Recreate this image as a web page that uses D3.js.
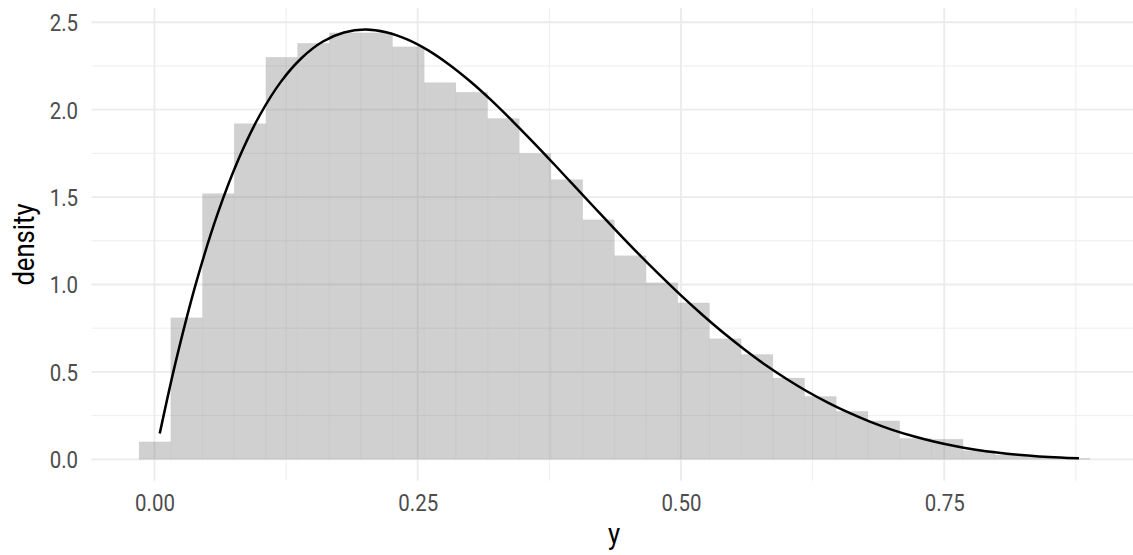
<!DOCTYPE html>
<html><head><meta charset="utf-8">
<script src="https://cdn.jsdelivr.net/npm/d3@7"></script>
<style>body{margin:0;background:#fff} svg{display:block}</style>
</head><body>
<svg id="c" width="1133" height="555"></svg>
<script>
// ---- data ----
const binCenters = [0.0004,0.0305,0.0606,0.0907,0.1208,0.1509,0.1810,0.2111,0.2412,0.2713,
  0.3014,0.3315,0.3616,0.3917,0.4218,0.4519,0.4820,0.5121,0.5422,0.5723,
  0.6024,0.6325,0.6626,0.6927,0.7228,0.7529,0.7830,0.8131,0.8432,0.8733];
const binWidth = 0.0301;
const binDensity = [0.10,0.81,1.52,1.92,2.30,2.38,2.44,2.44,2.36,2.155,
  2.10,1.95,1.75,1.60,1.37,1.165,1.01,0.895,0.69,0.60,
  0.465,0.36,0.275,0.22,0.12,0.115,0.05,0.025,0.012,0.006];
const curveX = [0.005,0.02,0.04,0.06,0.08,0.10,0.12,0.14,0.16,0.18,0.20,0.22,0.24,0.26,0.28,0.30,
  0.32,0.34,0.36,0.38,0.40,0.42,0.44,0.46,0.48,0.50,0.52,0.54,0.56,0.58,0.60,0.62,0.64,0.66,
  0.68,0.70,0.72,0.74,0.76,0.78,0.80,0.82,0.84,0.86,0.878];
const curveY = [0.147,0.553,1.019,1.405,1.719,1.968,2.159,2.297,2.390,2.441,2.458,2.443,2.402,2.339,2.257,2.161,
  2.053,1.935,1.812,1.685,1.555,1.426,1.298,1.173,1.053,0.9375,0.828,0.725,0.630,0.541,0.461,0.388,0.323,0.265,
  0.214,0.170,0.133,0.1015,0.0757,0.0548,0.0384,0.0258,0.0165,0.0099,0.0058];
const xTicks = [0, 0.25, 0.5, 0.75];
const xTickLabels = ["0.00","0.25","0.50","0.75"];
const xMinor = [0.125, 0.375, 0.625, 0.875];
const yTicks = [0, 0.5, 1, 1.5, 2, 2.5];
const yTickLabels = ["0.0","0.5","1.0","1.5","2.0","2.5"];
const yMinor = [0.25, 0.75, 1.25, 1.75, 2.25];
const xTitle = "y", yTitle = "density";

// ---- layout ----
const svg = d3.select("#c");
const L = 91.5, R = 1137, T = 8.1, B = 480.8;
const x = d3.scaleLinear().domain([-0.0598, 0.9331]).range([L, R]);
const y = d3.scaleLinear().domain([-0.123, 2.581]).range([B, T]);
const FONT = "Roboto, 'Noto Sans', sans-serif";
const SX = 0.87;

const grid = svg.append("g");
grid.selectAll(".ymin").data(yMinor).join("line")
  .attr("x1", L).attr("x2", R).attr("y1", d => y(d)).attr("y2", d => y(d))
  .attr("stroke", "#ebebeb").attr("stroke-width", 0.9);
grid.selectAll(".xmin").data(xMinor).join("line")
  .attr("y1", T).attr("y2", B).attr("x1", d => x(d)).attr("x2", d => x(d))
  .attr("stroke", "#ebebeb").attr("stroke-width", 0.9);
grid.selectAll(".ymaj").data(yTicks).join("line")
  .attr("x1", L).attr("x2", R).attr("y1", d => y(d)).attr("y2", d => y(d))
  .attr("stroke", "#ebebeb").attr("stroke-width", 1.8);
grid.selectAll(".xmaj").data(xTicks).join("line")
  .attr("y1", T).attr("y2", B).attr("x1", d => x(d)).attr("x2", d => x(d))
  .attr("stroke", "#ebebeb").attr("stroke-width", 1.8);

// bars
svg.append("g").selectAll("rect").data(binCenters).join("rect")
  .attr("x", d => x(d - binWidth/2))
  .attr("width", d => x(d + binWidth/2) - x(d - binWidth/2))
  .attr("y", (d,i) => y(binDensity[i]))
  .attr("height", (d,i) => y(0) - y(binDensity[i]))
  .attr("fill", "#808080").attr("fill-opacity", 0.37)
  .attr("stroke", "#808080").attr("stroke-opacity", 0.06).attr("stroke-width", 0.8);

// density curve
svg.append("path")
  .datum(curveX.map((v,i) => [v, curveY[i]]))
  .attr("fill", "none").attr("stroke", "#000").attr("stroke-width", 2.5)
  .attr("d", d3.line().x(d => x(d[0])).y(d => y(d[1])).curve(d3.curveCatmullRom));

// axes
const ax = svg.append("g").attr("transform", `translate(0,${B})`)
  .call(d3.axisBottom(x).tickValues(xTicks).tickFormat((d,i) => xTickLabels[i]).tickSize(0).tickPadding(14));
ax.select(".domain").remove();
ax.selectAll("text").attr("font-family", FONT).attr("font-size", 23.5).attr("fill", "#4d4d4d")
  .attr("transform", `scale(${SX},1)`);

const ay = svg.append("g").attr("transform", `translate(${L},0)`)
  .call(d3.axisLeft(y).tickValues(yTicks).tickFormat((d,i) => yTickLabels[i]).tickSize(0));
ay.select(".domain").remove();
ay.selectAll("text").attr("font-family", FONT).attr("font-size", 23.5).attr("fill", "#4d4d4d")
  .attr("x", -(L - 78) / SX).attr("dy", "0.36em")
  .attr("transform", `scale(${SX},1)`);

// titles
svg.append("g").attr("transform", `translate(614,544) scale(${SX},1)`)
  .append("text").attr("text-anchor", "middle").attr("font-family", FONT)
  .attr("font-size", 29.5).attr("fill", "#000").text(xTitle);
svg.append("g").attr("transform", `translate(34,244.5) rotate(-90) scale(${SX},1)`)
  .append("text").attr("text-anchor", "middle").attr("font-family", FONT)
  .attr("font-size", 29.5).attr("fill", "#000").text(yTitle);
</script>
</body></html>
